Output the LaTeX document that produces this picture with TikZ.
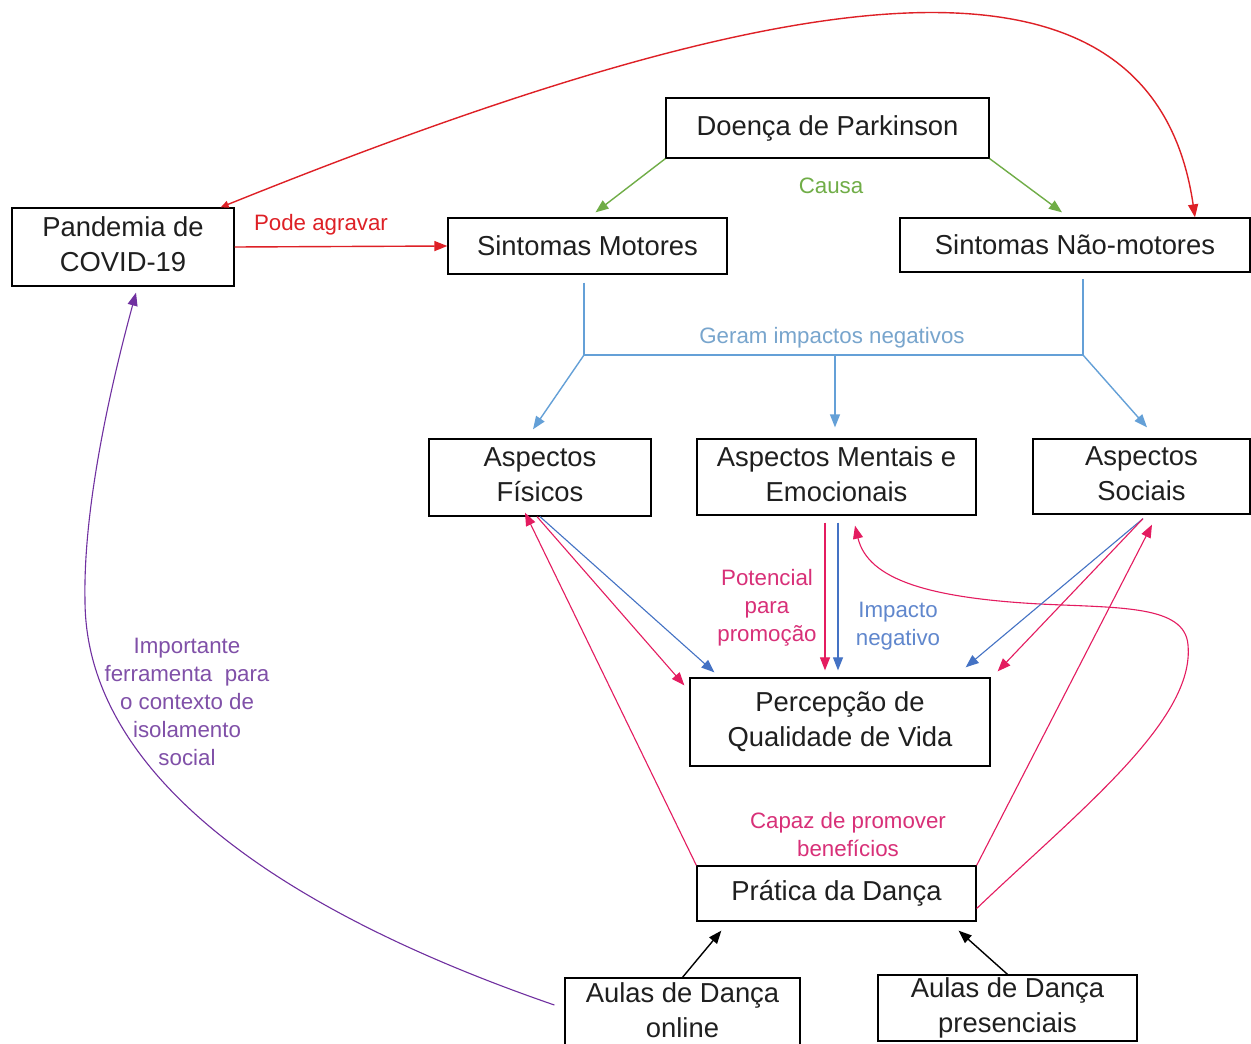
\documentclass[tikz,border=0pt]{standalone}
\usepackage{fontspec}
\setmainfont{Liberation Sans}
\usetikzlibrary{arrows.meta,calc}
\definecolor{cred}{RGB}{222,32,38}
\definecolor{cgreen}{RGB}{112,173,71}
\definecolor{cblue}{RGB}{100,160,215}
\definecolor{cdblue}{RGB}{68,114,196}
\definecolor{cpink}{RGB}{228,28,96}
\definecolor{cpinklbl}{RGB}{216,48,120}
\definecolor{cpurple}{RGB}{112,48,160}
\definecolor{cpurplelbl}{RGB}{128,80,168}
\definecolor{cgeram}{RGB}{120,165,205}
\begin{document}
\begin{tikzpicture}[x=1pt,y=-1pt,
  box/.style={draw=black, line width=1.3pt, rectangle, inner sep=0pt, align=center,
              font=\fontsize{27.4}{35.5}\selectfont, text=black!88},
  raised/.style={text depth=6pt},
  lbl/.style={align=center, inner sep=0pt, font=\fontsize{22.3}{28}\selectfont},
  arr/.style={line width=1.4pt, -{Triangle[length=13pt,width=10pt]}},
  thinarr/.style={line width=1.1pt, -{Triangle[length=13pt,width=10pt]}}]
\useasboundingbox (0,0) rectangle (1251,1044);
\fill[white] (0,0) rectangle (1251,1044);

% boxes
\node[box, minimum width=323pt, minimum height=60pt] (dp) at (827.5,128) {Doença de Parkinson};
\node[box, raised, minimum width=222pt, minimum height=78pt] (covid) at (123,247) {Pandemia de\\COVID-19};
\node[box, minimum width=279pt, minimum height=56pt] (sm) at (587.5,246) {Sintomas Motores};
\node[box, minimum width=350pt, minimum height=54pt] (snm) at (1075,245) {Sintomas Não-motores};
\node[box, raised, minimum width=222pt, minimum height=77pt] (af) at (540,477.5) {Aspectos\\Físicos};
\node[box, raised, minimum width=279pt, minimum height=76pt] (am) at (836.5,477) {Aspectos Mentais e\\Emocionais};
\node[box, raised, minimum width=217pt, minimum height=75pt] (as) at (1141.5,476.5) {Aspectos\\Sociais};
\node[box, raised, minimum width=300pt, minimum height=88pt] (pq) at (840,722) {Percepção de\\Qualidade de Vida};
\node[box, minimum width=279pt, minimum height=55pt] (pd) at (836.5,893.5) {Prática da Dança};
\node[box, raised, minimum width=235pt, minimum height=70pt] (ao) at (682.5,1013) {Aulas de Dança\\online};
\node[box, minimum width=259pt, minimum height=66pt] (ap) at (1007.5,1008) {Aulas de Dança\\presenciais};

% labels
\node[lbl, text=cred] (lpode) at (321,225) {Pode agravar};
\node[lbl, text=cgreen] (lcausa) at (831,186) {Causa};
\node[lbl, text=cgeram] (lgeram) at (832,338) {Geram impactos negativos};
\node[lbl, text=cpinklbl] (lpot) at (767,608) {Potencial\\para\\promoção};
\node[lbl, text=cdblue!85] (limp) at (898,626) {Impacto\\negativo};
\node[lbl, text=cpinklbl] (lcap) at (848,834.5) {Capaz de promover\\benefícios};
\node[lbl, text=cpurplelbl] (limpt) at (187,702) {Importante\\ferramenta\ \ para\\o contexto de\\isolamento\\social};

% red
\draw[line width=1.4pt, cred, {Triangle[length=8pt,width=7pt]}-{Triangle[length=13pt,width=10pt]}] ([xshift=-14pt]covid.north east) .. controls (760,-10) and (1150,-90) .. ([xshift=120pt]snm.north);
\draw[arr, cred] (covid.east) -- (sm.west);

% green
\draw[arr, cgreen] (dp.south west) -- ([shift={(8,-5)}]sm.north);
\draw[arr, cgreen] (dp.south east) -- ([shift={(-13,-5)}]snm.north);

% blue split
\coordinate (jL) at (584,355);
\coordinate (jM) at (835,355);
\coordinate (jR) at (1083,355);
\draw[line width=1.4pt, cblue] ([shift={(-3.5,8)}]sm.south) -- (jL) -- (jR) -- ([shift={(8,6)}]snm.south);
\draw[arr, cblue] (jL) -- ([shift={(-7,-9)}]af.north);
\draw[arr, cblue] (jM) -- ([shift={(-1.5,-11)}]am.north);
\draw[arr, cblue] (jR) -- ([shift={(5.5,-11)}]as.north);

% Aspectos Fisicos
\draw[thinarr, cdblue] (af.south) -- ([shift={(25,-5)}]pq.north west);
\draw[thinarr, cpink] ([xshift=-3pt]af.south) -- ([shift={(-5,8)}]pq.north west);
\draw[thinarr, cpink] (pd.north west) -- ([shift={(-15,-4)}]af.south);

% Aspectos Mentais
\draw[thinarr, cpink] ([shift={(-11.5,7)}]am.south) -- ([shift={(-15,-7)}]pq.north);
\draw[thinarr, cdblue] ([shift={(1.5,7)}]am.south) -- ([shift={(-2,-7)}]pq.north);
\coordinate (lp1) at (1188,645);
\coordinate (lp2) at (1040,604);
\draw[thinarr, cpink] ([yshift=-15pt]pd.east) .. controls (1080,810) and (1195,720) .. (lp1)
  .. controls (1185,605) and (1120,608) .. (lp2)
  .. controls (930,598) and (868,580) .. ([shift={(18.5,10)}]am.south);

% Aspectos Sociais
\draw[thinarr, cdblue] ([shift={(1.5,4)}]as.south) -- ([shift={(-25,-10)}]pq.north east);
\draw[thinarr, cpink] ([shift={(1.5,4)}]as.south) -- ([shift={(7,-6)}]pq.north east);
\draw[thinarr, cpink] (pd.north east) -- ([shift={(10.5,10)}]as.south);

% black
\draw[arr, black] (ao.north) -- ([shift={(25,9)}]pd.south west);
\draw[arr, black] (ap.north) -- ([shift={(-18,9)}]pd.south east);

% purple
\coordinate (pp) at (85,600);
\draw[thinarr, cpurple] ([shift={(-10,-8)}]ao.west) .. controls (250,900) and (85,760) .. (pp)
  .. controls (83,500) and (115,370) .. ([shift={(13,6)}]covid.south);
\end{tikzpicture}
\end{document}
